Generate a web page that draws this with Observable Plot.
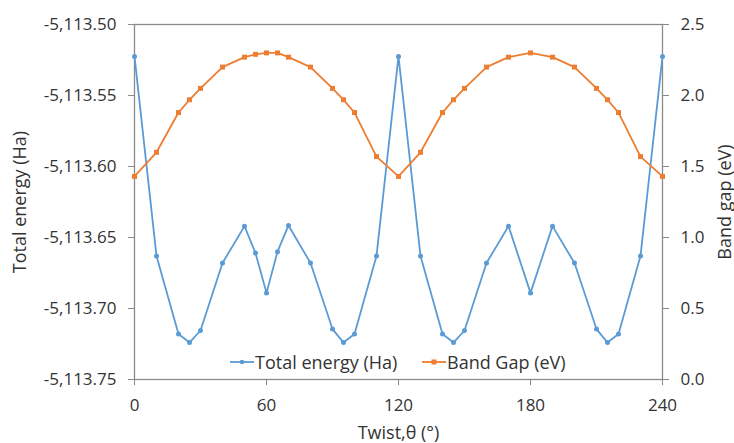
<!DOCTYPE html>
<html>
<head>
<meta charset="utf-8">
<script src="https://cdn.jsdelivr.net/npm/d3@7"></script>
<script src="https://cdn.jsdelivr.net/npm/@observablehq/plot@0.6"></script>
<style>
  html, body { margin: 0; padding: 0; background: #fff; }
  #wrap { position: relative; width: 734px; height: 443px; font-family: "Open Sans", sans-serif; color: #333; }
  .legend-item { position: absolute; top: 350px; display: flex; align-items: center; gap: 1px; font-size: 18px; white-space: nowrap; line-height: 24px; }
</style>
</head>
<body>
<div id="wrap"></div>
<script>
const angles = [0,10,20,25,30,40,50,55,60,65,70,80,90,95,100,110,120,130,140,145,150,160,170,180,190,200,210,215,220,230,240];
const totalEnergy = [-5113.5225,-5113.663,-5113.718,-5113.724,-5113.7155,-5113.668,-5113.642,-5113.661,-5113.689,-5113.660,-5113.6415,-5113.668,-5113.7145,-5113.724,-5113.718,-5113.663,-5113.5225,-5113.663,-5113.718,-5113.724,-5113.7155,-5113.668,-5113.642,-5113.689,-5113.642,-5113.668,-5113.7145,-5113.724,-5113.718,-5113.663,-5113.5225];
const bandGap = [1.43,1.60,1.88,1.97,2.05,2.20,2.27,2.29,2.30,2.30,2.27,2.20,2.05,1.97,1.88,1.57,1.43,1.60,1.88,1.97,2.05,2.20,2.27,2.30,2.27,2.20,2.05,1.97,1.88,1.57,1.43];
const xTicks = [0,60,120,180,240];
const energyTicks = [-5113.75,-5113.70,-5113.65,-5113.60,-5113.55,-5113.50];
const gapTicks = [0,0.5,1.0,1.5,2.0,2.5];
const seriesNames = ["Total energy (Ha)", "Band Gap (eV)"];
const colors = ["#5B9BD5", "#ED7D31"];

const eMin = -5113.75, eMax = -5113.50, gMax = 2.5;
const gapToE = g => eMin + g * (eMax - eMin) / gMax;
const eToGap = e => (e - eMin) * gMax / (eMax - eMin);

const energyData = angles.map((a, i) => ({a, v: totalEnergy[i]}));
const gapData = angles.map((a, i) => ({a, v: gapToE(bandGap[i])}));
const fmtE = v => d3.format(",.2f")(v).replace("\u2212", "-");

const chart = Plot.plot({
  width: 734,
  height: 443,
  marginLeft: 134,
  marginRight: 72,
  marginTop: 24,
  marginBottom: 64,
  style: {fontFamily: "'Open Sans', sans-serif", fontSize: "17px", color: "#333", background: "#fff"},
  x: {domain: [0, 240]},
  y: {domain: [eMin, eMax]},
  marks: [
    Plot.frame({stroke: "#8a8a8a", strokeWidth: 1.3}),
    Plot.axisX({ticks: xTicks, tickSize: 6, tickPadding: 13, tickFormat: d => String(d), stroke: "#8a8a8a", label: null}),
    Plot.axisX({ticks: [], label: "Twist,θ (°)", labelAnchor: "center", labelOffset: 59, labelArrow: "none", fontSize: 18}),
    Plot.axisY({anchor: "left", ticks: energyTicks, tickSize: 6, tickPadding: 12, tickFormat: fmtE, stroke: "#8a8a8a", label: null}),
    Plot.axisY({anchor: "left", ticks: [], label: "Total energy (Ha)", labelAnchor: "center", labelOffset: 121, labelArrow: "none", fontSize: 18}),
    Plot.axisY({anchor: "right", ticks: gapTicks.map(gapToE), tickSize: 6, tickPadding: 12,
      tickFormat: v => eToGap(v).toFixed(1), stroke: "#8a8a8a", label: null}),
    Plot.axisY({anchor: "right", ticks: [], label: "Band gap (eV)", labelAnchor: "center", labelOffset: 68, labelArrow: "none", fontSize: 18}),
    Plot.line(energyData, {x: "a", y: "v", stroke: colors[0], strokeWidth: 1.8}),
    Plot.dot(energyData, {x: "a", y: "v", fill: colors[0], r: 2.5, symbol: "circle"}),
    Plot.line(gapData, {x: "a", y: "v", stroke: colors[1], strokeWidth: 1.8}),
    Plot.dot(gapData, {x: "a", y: "v", fill: colors[1], r: 2.8, symbol: "square"})
  ]
});

const wrap = document.getElementById("wrap");
wrap.appendChild(chart);

const legendLefts = [230, 422];
seriesNames.forEach((name, i) => {
  const item = document.createElement("div");
  item.className = "legend-item";
  item.style.left = legendLefts[i] + "px";
  const marker = i === 0
    ? `<circle cx="12" cy="6" r="2.3" fill="${colors[i]}"/>`
    : `<rect x="9.5" y="3.5" width="5" height="5" fill="${colors[i]}"/>`;
  item.innerHTML = `<svg width="24" height="12"><line x1="0" y1="6" x2="24" y2="6" stroke="${colors[i]}" stroke-width="1.8"/>${marker}</svg><span>${name}</span>`;
  wrap.appendChild(item);
});
</script>
</body>
</html>
